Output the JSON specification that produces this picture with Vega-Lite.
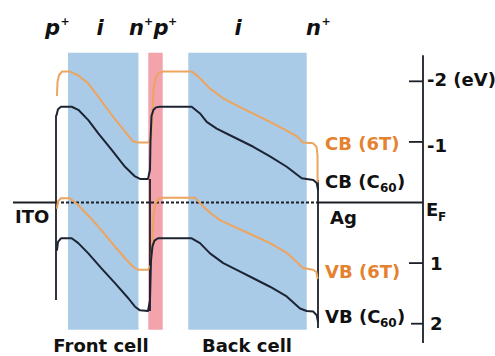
{
  "$schema": "https://vega.github.io/schema/vega-lite/v6.json",
  "width": 495,
  "height": 356,
  "autosize": {"type": "none"},
  "padding": 0,
  "background": "white",
  "config": {"view": {"stroke": null}, "font": "DejaVu Sans"},
  "datasets": {
    "regions": [
      {"region": "front", "x0": 68, "x1": 138.5, "top": -2.47, "bottom": 2.10},
      {"region": "tunnel", "x0": 148.3, "x1": 162.7, "top": -2.47, "bottom": 2.10},
      {"region": "back", "x0": 188.3, "x1": 306.7, "top": -2.47, "bottom": 2.10}
    ],
    "bands": [
      {"band": "CB6T", "x": 57, "E": -1.77}, {"band": "CB6T", "x": 57.5, "E": -1.99}, {"band": "CB6T", "x": 59, "E": -2.10}, {"band": "CB6T", "x": 62, "E": -2.16}, {"band": "CB6T", "x": 70, "E": -2.16}, {"band": "CB6T", "x": 78, "E": -2.10}, {"band": "CB6T", "x": 88, "E": -1.97}, {"band": "CB6T", "x": 98, "E": -1.75}, {"band": "CB6T", "x": 112, "E": -1.44}, {"band": "CB6T", "x": 125, "E": -1.17}, {"band": "CB6T", "x": 133, "E": -1.01}, {"band": "CB6T", "x": 138, "E": -0.99}, {"band": "CB6T", "x": 148, "E": -0.99}, {"band": "CB6T", "x": 151, "E": -1.06}, {"band": "CB6T", "x": 152.5, "E": -1.44}, {"band": "CB6T", "x": 153.5, "E": -1.86}, {"band": "CB6T", "x": 155.5, "E": -2.05}, {"band": "CB6T", "x": 158.5, "E": -2.14}, {"band": "CB6T", "x": 163, "E": -2.16}, {"band": "CB6T", "x": 192, "E": -2.16}, {"band": "CB6T", "x": 200, "E": -2.05}, {"band": "CB6T", "x": 210, "E": -1.88}, {"band": "CB6T", "x": 223, "E": -1.72}, {"band": "CB6T", "x": 243, "E": -1.55}, {"band": "CB6T", "x": 263, "E": -1.39}, {"band": "CB6T", "x": 283, "E": -1.22}, {"band": "CB6T", "x": 297, "E": -1.09}, {"band": "CB6T", "x": 303, "E": -0.99}, {"band": "CB6T", "x": 313, "E": -0.98}, {"band": "CB6T", "x": 316.5, "E": -0.92}, {"band": "CB6T", "x": 317.5, "E": -0.78}, {"band": "CB6T", "x": 317.6, "E": -0.34},
      {"band": "CBC60", "x": 56.5, "E": -1.44}, {"band": "CBC60", "x": 58, "E": -1.54}, {"band": "CBC60", "x": 61, "E": -1.58}, {"band": "CBC60", "x": 71.7, "E": -1.58}, {"band": "CBC60", "x": 78.3, "E": -1.53}, {"band": "CBC60", "x": 88.3, "E": -1.36}, {"band": "CBC60", "x": 98.3, "E": -1.14}, {"band": "CBC60", "x": 111.7, "E": -0.87}, {"band": "CBC60", "x": 125, "E": -0.59}, {"band": "CBC60", "x": 135, "E": -0.43}, {"band": "CBC60", "x": 140, "E": -0.39}, {"band": "CBC60", "x": 148, "E": -0.39}, {"band": "CBC60", "x": 150, "E": -0.54}, {"band": "CBC60", "x": 150.5, "E": -1.03}, {"band": "CBC60", "x": 151.5, "E": -1.43}, {"band": "CBC60", "x": 153.5, "E": -1.53}, {"band": "CBC60", "x": 156, "E": -1.57}, {"band": "CBC60", "x": 160, "E": -1.58}, {"band": "CBC60", "x": 191.7, "E": -1.58}, {"band": "CBC60", "x": 200, "E": -1.47}, {"band": "CBC60", "x": 206.7, "E": -1.33}, {"band": "CBC60", "x": 216.7, "E": -1.22}, {"band": "CBC60", "x": 230, "E": -1.11}, {"band": "CBC60", "x": 253.3, "E": -0.92}, {"band": "CBC60", "x": 270, "E": -0.76}, {"band": "CBC60", "x": 286.7, "E": -0.59}, {"band": "CBC60", "x": 301.7, "E": -0.40}, {"band": "CBC60", "x": 313.3, "E": -0.37}, {"band": "CBC60", "x": 316.7, "E": -0.32}, {"band": "CBC60", "x": 318, "E": -0.21},
      {"band": "VB6T", "x": 57, "E": 0.09}, {"band": "VB6T", "x": 58, "E": -0.02}, {"band": "VB6T", "x": 61, "E": -0.07}, {"band": "VB6T", "x": 70, "E": -0.07}, {"band": "VB6T", "x": 78, "E": 0.04}, {"band": "VB6T", "x": 88, "E": 0.21}, {"band": "VB6T", "x": 98, "E": 0.39}, {"band": "VB6T", "x": 112, "E": 0.67}, {"band": "VB6T", "x": 125, "E": 0.92}, {"band": "VB6T", "x": 133, "E": 1.06}, {"band": "VB6T", "x": 138, "E": 1.11}, {"band": "VB6T", "x": 148, "E": 1.11}, {"band": "VB6T", "x": 151, "E": 1.03}, {"band": "VB6T", "x": 152.5, "E": 0.62}, {"band": "VB6T", "x": 153.5, "E": 0.21}, {"band": "VB6T", "x": 155.5, "E": 0.01}, {"band": "VB6T", "x": 158.5, "E": -0.06}, {"band": "VB6T", "x": 163, "E": -0.08}, {"band": "VB6T", "x": 195, "E": -0.08}, {"band": "VB6T", "x": 201.7, "E": 0.04}, {"band": "VB6T", "x": 210, "E": 0.17}, {"band": "VB6T", "x": 220, "E": 0.29}, {"band": "VB6T", "x": 236.7, "E": 0.42}, {"band": "VB6T", "x": 253, "E": 0.54}, {"band": "VB6T", "x": 270, "E": 0.67}, {"band": "VB6T", "x": 286.7, "E": 0.83}, {"band": "VB6T", "x": 296.7, "E": 0.98}, {"band": "VB6T", "x": 303, "E": 1.08}, {"band": "VB6T", "x": 313, "E": 1.11}, {"band": "VB6T", "x": 316.5, "E": 1.15}, {"band": "VB6T", "x": 317.5, "E": 1.25},
      {"band": "VBC60", "x": 57, "E": 0.78}, {"band": "VBC60", "x": 58, "E": 0.65}, {"band": "VBC60", "x": 61, "E": 0.59}, {"band": "VBC60", "x": 71.7, "E": 0.59}, {"band": "VBC60", "x": 78.3, "E": 0.67}, {"band": "VBC60", "x": 88.3, "E": 0.84}, {"band": "VBC60", "x": 101.7, "E": 1.09}, {"band": "VBC60", "x": 115, "E": 1.33}, {"band": "VBC60", "x": 128.3, "E": 1.58}, {"band": "VBC60", "x": 135, "E": 1.72}, {"band": "VBC60", "x": 140, "E": 1.78}, {"band": "VBC60", "x": 148, "E": 1.79}, {"band": "VBC60", "x": 150, "E": 1.61}, {"band": "VBC60", "x": 151, "E": 0.95}, {"band": "VBC60", "x": 152.5, "E": 0.72}, {"band": "VBC60", "x": 154.5, "E": 0.63}, {"band": "VBC60", "x": 158, "E": 0.59}, {"band": "VBC60", "x": 163, "E": 0.59}, {"band": "VBC60", "x": 191.7, "E": 0.59}, {"band": "VBC60", "x": 200, "E": 0.67}, {"band": "VBC60", "x": 210, "E": 0.84}, {"band": "VBC60", "x": 223.3, "E": 1.00}, {"band": "VBC60", "x": 236.7, "E": 1.11}, {"band": "VBC60", "x": 253.3, "E": 1.25}, {"band": "VBC60", "x": 270, "E": 1.39}, {"band": "VBC60", "x": 286.7, "E": 1.55}, {"band": "VBC60", "x": 300, "E": 1.75}, {"band": "VBC60", "x": 306.7, "E": 1.79}, {"band": "VBC60", "x": 313.3, "E": 1.80}, {"band": "VBC60", "x": 316.7, "E": 1.86}, {"band": "VBC60", "x": 318, "E": 1.97}
    ],
    "verticals": [
      {"name": "ITO", "x": 56, "E1": -1.44, "E2": 1.61},
      {"name": "junction", "x": 150, "E1": -0.39, "E2": 1.79},
      {"name": "Ag", "x": 318, "E1": -0.37, "E2": 2.07},
      {"name": "axis", "x": 423, "E1": -2.43, "E2": 2.32}
    ],
    "horizontals": [
      {"name": "EF-left", "x": 13, "x2": 56, "E": 0},
      {"name": "EF-right", "x": 318, "x2": 423, "E": 0},
      {"name": "tick", "x": 409, "x2": 423, "E": -2},
      {"name": "tick", "x": 409, "x2": 423, "E": -1},
      {"name": "tick", "x": 409, "x2": 423, "E": 1},
      {"name": "tick", "x": 411, "x2": 423, "E": 2}
    ],
    "dashed": [{"name": "EF", "x": 56, "x2": 318, "E": 0}],
    "layers": [
      {"t": "p", "x": 52.5, "E": -2.76}, {"t": "i", "x": 100, "E": -2.76}, {"t": "n", "x": 136.5, "E": -2.76},
      {"t": "p", "x": 161, "E": -2.76}, {"t": "i", "x": 238, "E": -2.76}, {"t": "n", "x": 313.5, "E": -2.76}
    ],
    "plus": [
      {"t": "+", "x": 65, "E": -2.98}, {"t": "+", "x": 148.5, "E": -2.98}, {"t": "+", "x": 172.5, "E": -2.98}, {"t": "+", "x": 326, "E": -2.98}
    ],
    "cells": [
      {"t": "Front cell", "x": 101, "E": 2.46}, {"t": "Back cell", "x": 247, "E": 2.46}
    ],
    "labels6T": [
      {"t": "CB (6T)", "x": 325, "E": -0.86}, {"t": "VB (6T)", "x": 325, "E": 1.24}
    ],
    "labelsBlack": [
      {"t": "CB (C", "x": 325, "E": -0.24}, {"t": ")", "x": 397, "E": -0.24},
      {"t": "VB (C", "x": 325, "E": 1.99}, {"t": ")", "x": 397, "E": 1.99},
      {"t": "ITO", "x": 15, "E": 0.34}, {"t": "Ag", "x": 330, "E": 0.35},
      {"t": "-2 (eV)", "x": 427, "E": -1.92}, {"t": "-1", "x": 427, "E": -0.83},
      {"t": "E", "x": 426, "E": 0.22}, {"t": "1", "x": 430, "E": 1.11}, {"t": "2", "x": 430, "E": 2.10}
    ],
    "subs": [
      {"t": "60", "x": 380, "E": -0.17}, {"t": "60", "x": 380, "E": 2.06}, {"t": "F", "x": 438, "E": 0.30}
    ]
  },
  "layer": [
    {
      "data": {"name": "regions"},
      "mark": {"type": "rect"},
      "encoding": {
        "x": {"field": "x0", "type": "quantitative", "scale": {"domain": [0, 495], "nice": false, "zero": false}, "axis": null},
        "x2": {"field": "x1"},
        "y": {"field": "top", "type": "quantitative", "scale": {"domain": [-3.342, 2.533], "nice": false, "zero": false, "reverse": true}, "axis": null},
        "y2": {"field": "bottom"},
        "fill": {"field": "region", "type": "nominal", "scale": {"domain": ["front", "tunnel", "back"], "range": ["#a9cbe7", "#f2a3ab", "#a9cbe7"]}, "legend": null}
      }
    },
    {
      "data": {"name": "horizontals"},
      "mark": {"type": "rule", "color": "#1b1f28", "strokeWidth": 1.8},
      "encoding": {
        "x": {"field": "x", "type": "quantitative", "scale": {"domain": [0, 495]}, "axis": null},
        "x2": {"field": "x2"},
        "y": {"field": "E", "type": "quantitative", "scale": {"domain": [-3.342, 2.533]}, "axis": null}
      }
    },
    {
      "data": {"name": "dashed"},
      "mark": {"type": "rule", "color": "#1b1f28", "strokeWidth": 1.8, "strokeDash": [3, 2]},
      "encoding": {
        "x": {"field": "x", "type": "quantitative", "scale": {"domain": [0, 495]}, "axis": null},
        "x2": {"field": "x2"},
        "y": {"field": "E", "type": "quantitative", "scale": {"domain": [-3.342, 2.533]}, "axis": null}
      }
    },
    {
      "data": {"name": "verticals"},
      "mark": {"type": "rule", "color": "#1b1f28", "strokeWidth": 1.8},
      "encoding": {
        "x": {"field": "x", "type": "quantitative", "scale": {"domain": [0, 495]}, "axis": null},
        "y": {"field": "E1", "type": "quantitative", "scale": {"domain": [-3.342, 2.533]}, "axis": null},
        "y2": {"field": "E2"}
      }
    },
    {
      "data": {"name": "bands"},
      "mark": {"type": "line", "strokeWidth": 2, "strokeJoin": "round", "strokeCap": "round"},
      "encoding": {
        "x": {"field": "x", "type": "quantitative", "scale": {"domain": [0, 495]}, "axis": null},
        "y": {"field": "E", "type": "quantitative", "scale": {"domain": [-3.342, 2.533]}, "axis": null},
        "detail": {"field": "band", "type": "nominal"},
        "stroke": {"field": "band", "type": "nominal", "scale": {"domain": ["CB6T", "VB6T", "CBC60", "VBC60"], "range": ["#eca45e", "#eca45e", "#1c2433", "#1c2433"]}, "legend": null},
        "order": {"value": null}
      }
    },
    {
      "data": {"name": "layers"},
      "mark": {"type": "text", "font": "DejaVu Sans", "fontWeight": "bold", "fontStyle": "italic", "fontSize": 21, "align": "center", "baseline": "alphabetic", "color": "#111"},
      "encoding": {
        "x": {"field": "x", "type": "quantitative", "scale": {"domain": [0, 495]}, "axis": null},
        "y": {"field": "E", "type": "quantitative", "scale": {"domain": [-3.342, 2.533]}, "axis": null},
        "text": {"field": "t"}
      }
    },
    {
      "data": {"name": "plus"},
      "mark": {"type": "text", "font": "DejaVu Sans", "fontWeight": "bold", "fontSize": 11, "align": "center", "baseline": "middle", "color": "#111"},
      "encoding": {
        "x": {"field": "x", "type": "quantitative", "scale": {"domain": [0, 495]}, "axis": null},
        "y": {"field": "E", "type": "quantitative", "scale": {"domain": [-3.342, 2.533]}, "axis": null},
        "text": {"field": "t"}
      }
    },
    {
      "data": {"name": "cells"},
      "mark": {"type": "text", "font": "DejaVu Sans", "fontWeight": "bold", "fontSize": 18, "align": "center", "baseline": "alphabetic", "color": "#111"},
      "encoding": {
        "x": {"field": "x", "type": "quantitative", "scale": {"domain": [0, 495]}, "axis": null},
        "y": {"field": "E", "type": "quantitative", "scale": {"domain": [-3.342, 2.533]}, "axis": null},
        "text": {"field": "t"}
      }
    },
    {
      "data": {"name": "labels6T"},
      "mark": {"type": "text", "font": "DejaVu Sans", "fontWeight": "bold", "fontSize": 18, "align": "left", "baseline": "alphabetic", "color": "#e5822f"},
      "encoding": {
        "x": {"field": "x", "type": "quantitative", "scale": {"domain": [0, 495]}, "axis": null},
        "y": {"field": "E", "type": "quantitative", "scale": {"domain": [-3.342, 2.533]}, "axis": null},
        "text": {"field": "t"}
      }
    },
    {
      "data": {"name": "labelsBlack"},
      "mark": {"type": "text", "font": "DejaVu Sans", "fontWeight": "bold", "fontSize": 18, "align": "left", "baseline": "alphabetic", "color": "#111"},
      "encoding": {
        "x": {"field": "x", "type": "quantitative", "scale": {"domain": [0, 495]}, "axis": null},
        "y": {"field": "E", "type": "quantitative", "scale": {"domain": [-3.342, 2.533]}, "axis": null},
        "text": {"field": "t"}
      }
    },
    {
      "data": {"name": "subs"},
      "mark": {"type": "text", "font": "DejaVu Sans", "fontWeight": "bold", "fontSize": 12, "align": "left", "baseline": "alphabetic", "color": "#111"},
      "encoding": {
        "x": {"field": "x", "type": "quantitative", "scale": {"domain": [0, 495]}, "axis": null},
        "y": {"field": "E", "type": "quantitative", "scale": {"domain": [-3.342, 2.533]}, "axis": null},
        "text": {"field": "t"}
      }
    }
  ]
}
